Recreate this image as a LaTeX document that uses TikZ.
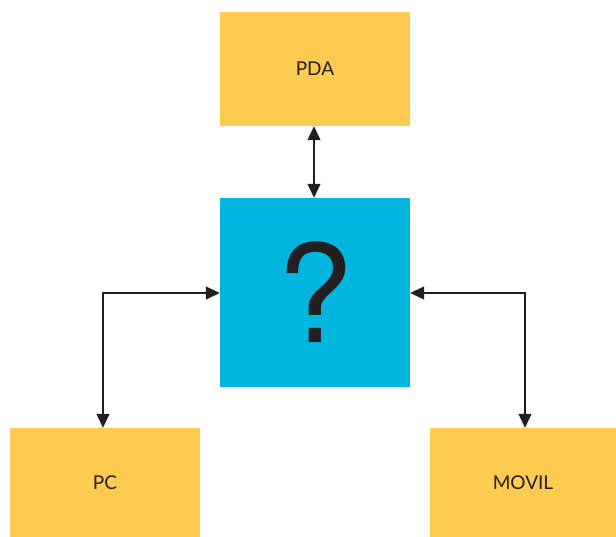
\documentclass[tikz,border=0pt]{standalone}
\usepackage{fontspec}
\setmainfont{Lato}
\newfontfamily\qfont{TeX Gyre Heros}
\usetikzlibrary{arrows.meta}
\definecolor{boxyellow}{HTML}{FDCB50}
\definecolor{boxblue}{HTML}{00B6DE}
\definecolor{inkdark}{HTML}{231F20}
\begin{document}
\begin{tikzpicture}[x=1pt,y=-1pt,
  ybox/.style={fill=boxyellow,draw=none,inner sep=0pt,text=inkdark,font=\fontsize{19}{22}\selectfont},
  bbox/.style={fill=boxblue,draw=none,inner sep=0pt,text=inkdark},
  conn/.style={draw=inkdark,line width=1.2pt,{Triangle[length=14pt,width=13pt]}-{Triangle[length=14pt,width=13pt]}}]
\useasboundingbox (0,0) rectangle (616,537);
\fill[white] (0,0) rectangle (616,537);
\node[ybox,minimum width=190pt,minimum height=114pt] (pda) at (315,69) {PDA};
\node[bbox,minimum width=190pt,minimum height=189pt] (q) at (315,292.5) {\qfont\fontsize{136}{136}\selectfont ?};
\node[ybox,minimum width=190pt,minimum height=109pt] (pc) at (105,482.5) {PC};
\node[ybox,minimum width=186pt,minimum height=109pt] (movil) at (523,482.5) {MOVIL};
\coordinate (lc) at (103,293);
\coordinate (rc) at (525,293);
\draw[conn] (pda.south -| 314,0) -- (q.north -| 314,0);
\draw[conn] (q.west |- lc) -- (lc) -- (lc |- pc.north);
\draw[conn] (q.east |- rc) -- (rc) -- (rc |- movil.north);
\end{tikzpicture}
\end{document}
